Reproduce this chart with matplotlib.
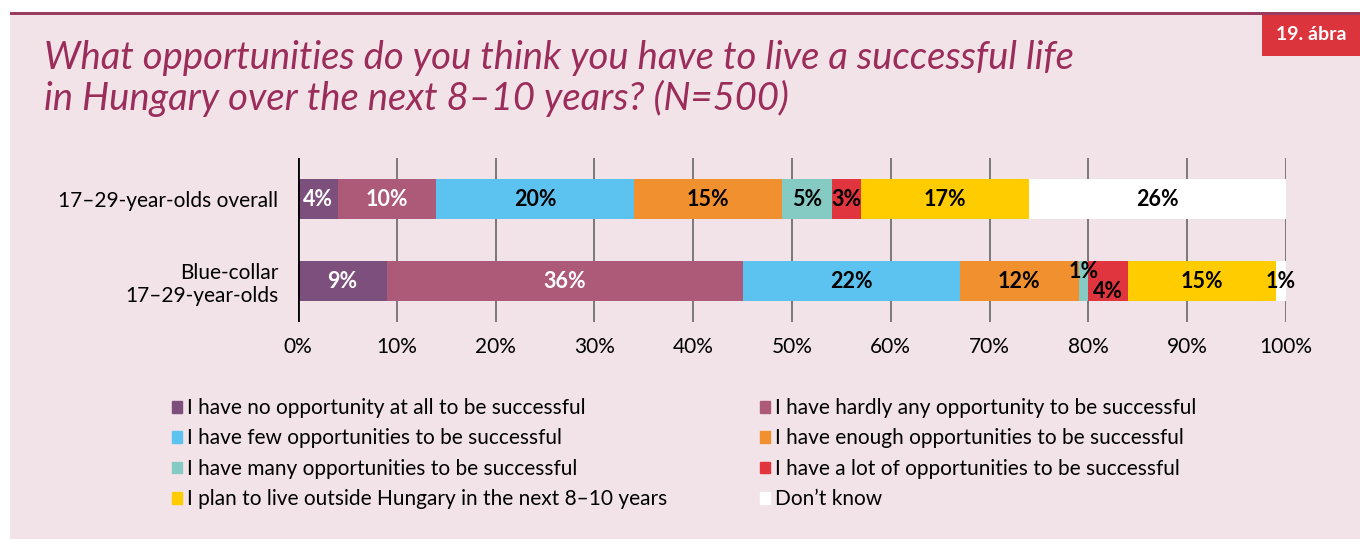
import numpy as np
import matplotlib.pyplot as plt
from matplotlib.patches import Rectangle

plt.rcParams['font.family'] = ['Lato', 'DejaVu Sans']

# data
groups = ['17\u201329-year-olds overall', 'Blue-collar\n17\u201329-year-olds']
answers = ['I have no opportunity at all to be successful',
           'I have hardly any opportunity to be successful',
           'I have few opportunities to be successful',
           'I have enough opportunities to be successful',
           'I have many opportunities to be successful',
           'I have a lot of opportunities to be successful',
           'I plan to live outside Hungary in the next 8\u201310 years',
           'Don\u2019t know']
overall = [4, 10, 20, 15, 5, 3, 17, 26]
blue_collar = [9, 36, 22, 12, 1, 4, 15, 1]
ticks = [0, 10, 20, 30, 40, 50, 60, 70, 80, 90, 100]

colors = ['#7c4f7d', '#ad5a78', '#5cc3f0', '#f0902f', '#86cbc3', '#e0353f', '#ffcc00', '#ffffff']
white_text = [True, True, False, False, False, False, False, False]
bg = '#f2e3e8'

fig = plt.figure(figsize=(13.6, 5.39), dpi=100)
fig.patch.set_facecolor('white')
# pink panel and top rule
fig.add_artist(Rectangle((10/1360, 0), 1350/1360, 1 - 14/539, transform=fig.transFigure,
                         facecolor=bg, edgecolor='none', zorder=0))
fig.add_artist(Rectangle((10/1360, 1 - 15/539), 1350/1360, 3/539, transform=fig.transFigure,
                         facecolor='#9b3b5f', edgecolor='none', zorder=1))
fig.add_artist(Rectangle((1262/1360, 1 - 56/539), 98/1360, 41/539, transform=fig.transFigure,
                         facecolor='#dc343d', edgecolor='none', zorder=1))
fig.text(1311/1360, 1 - 35/539, '19. ábra', color='white', fontsize=14, fontweight='bold',
         ha='center', va='center')

fig.text(44/1360, 1 - 58/539, 'What opportunities do you think you have to live a successful life',
         color='#9b2d5a', fontsize=27.5, style='italic', ha='left', va='center')
fig.text(44/1360, 1 - 98/539, 'in Hungary over the next 8\u201310 years? (N=500)',
         color='#9b2d5a', fontsize=27.5, style='italic', ha='left', va='center')

ax = fig.add_axes([298/1360, 1 - 322/539, 988/1360, 164/539])
ax.set_facecolor('none')
ax.set_xlim(0, 100)
ax.set_ylim(-0.5, 1.5)
ax.invert_yaxis()
bar_h = 40 / 82

rows = [overall, blue_collar]
for i, vals in enumerate(rows):
    left = 0
    for j, v in enumerate(vals):
        ax.barh(i, v, left=left, height=bar_h, color=colors[j], edgecolor='none', zorder=2)
        tc = 'white' if white_text[j] else 'black'
        y = i
        if i == 1 and j == 4:
            y = i - 0.12
        if i == 1 and j == 5:
            y = i + 0.13
        ax.text(left + v / 2, y, f'{v}%', ha='center', va='center', color=tc,
                fontsize=15.5, fontweight='bold', zorder=3)
        left += v

for t in ticks[1:]:
    ax.axvline(t, color='#666666', lw=1.2, zorder=1)
ax.axvline(0, color='black', lw=2, zorder=4)

for s in ax.spines.values():
    s.set_visible(False)
ax.set_xticks(ticks)
ax.set_xticklabels([f'{t}%' for t in ticks], fontsize=15)
ax.tick_params(axis='x', length=0, pad=11)
ax.set_yticks([0, 1])
ax.set_yticklabels(groups, fontsize=15, ha='right')
ax.tick_params(axis='y', length=0, pad=14)

# legend, two columns filled row by row
handles = [Rectangle((0, 0), 1, 1, color=c) for c in colors]
for col, x0 in enumerate([172, 760]):
    idx = [k for k in range(len(answers)) if k % 2 == col]
    leg = fig.legend([handles[k] for k in idx], [answers[k] for k in idx], loc='upper left',
                     bbox_to_anchor=(x0/1360, 1 - 398/539), frameon=False, fontsize=15,
                     handlelength=0.5, handleheight=0.5, handletextpad=0.2,
                     labelspacing=0.5, borderpad=0, borderaxespad=0)

fig.savefig('out.png', dpi=100, facecolor=fig.get_facecolor())
